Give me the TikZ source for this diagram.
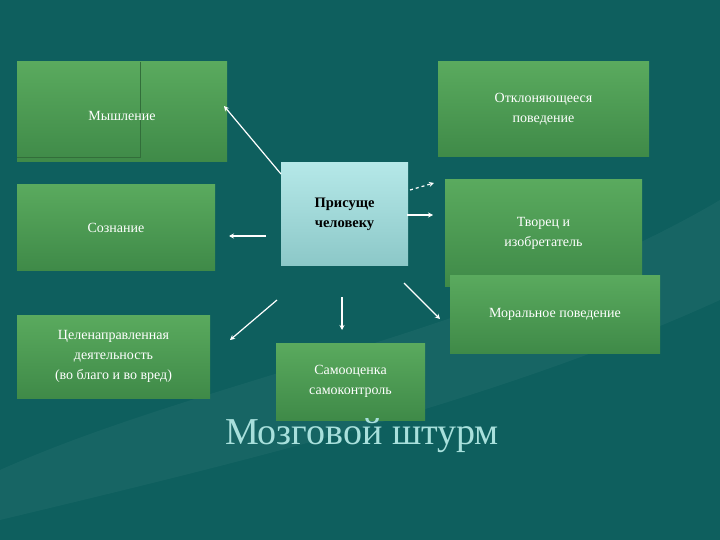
\documentclass[tikz,border=0pt]{standalone}
\usepackage{fontspec}
\setmainfont{Liberation Serif}
\usetikzlibrary{arrows.meta}
\definecolor{bg}{HTML}{0E5F5E}
\definecolor{gtop}{HTML}{5AAA5E}
\definecolor{gbot}{HTML}{3F8A48}
\definecolor{ctop}{HTML}{B5E8E8}
\definecolor{cbot}{HTML}{8CC8C8}
\definecolor{ttl}{HTML}{A8E0DC}
\tikzset{
  gbox/.style={top color=gtop,bottom color=gbot,draw=none,text=white,align=center,font=\fontsize{14}{20}\selectfont},
  cbox/.style={top color=ctop,bottom color=cbot,draw=none,text=black,align=center,font=\fontsize{14.5}{20}\selectfont\bfseries},
  arr/.style={draw=white,line width=1.2pt,-{Stealth[length=5pt,width=5pt]}}
}
\begin{document}
\begin{tikzpicture}[x=1pt,y=-1pt]
\fill[bg] (0,0) rectangle (720,540);
\path[use as bounding box] (0,0) rectangle (720,540);
\fill[white,opacity=0.04] (0,470) .. controls (200,380) and (500,330) .. (720,200) -- (720,300) .. controls (500,400) and (250,460) .. (0,520) -- cycle;
\node[gbox,minimum width=210pt,minimum height=100pt] (mysl) at (122,112) {};
\draw[gbot!80!black,line width=0.6pt] (140,62) -- (140,157) -- (17,157);
\node[text=white,font=\fontsize{14}{20}\selectfont] (myslt) at (122,116) {Мышление};
\node[gbox,minimum width=198pt,minimum height=85pt] (sozn) at (116,227.5) {Сознание};
\node[gbox,minimum width=193pt,minimum height=83pt] (cel) at (113.5,356.5) {Целенаправленная\\деятельность\\(во благо и во вред)};
\node[cbox,minimum width=127pt,minimum height=102pt] (c) at (344.5,214) {Присуще\\человеку};
\node[gbox,minimum width=211pt,minimum height=95pt] (otk) at (543.5,109.5) {Отклоняющееся\\поведение};
\node[gbox,minimum width=197pt,minimum height=106pt] (tvor) at (543.5,233) {Творец и\\изобретатель};
\node[gbox,minimum width=210pt,minimum height=78pt] (mor) at (555,314) {Моральное поведение};
\node[gbox,minimum width=149pt,minimum height=77pt] (sam) at (350.5,381.5) {Самооценка\\самоконтроль};
\node[text=ttl,font=\fontsize{38}{44}\selectfont] (title) at (362,436) {Мозговой штурм};
\coordinate (a1) at (281,174); \coordinate (b1) at (224,106);
\draw[arr] (a1) -- (b1);
\coordinate (a2) at (266,236); \coordinate (b2) at (229,236);
\draw[arr] (a2) -- (b2);
\coordinate (a3) at (407,215); \coordinate (b3) at (433,215);
\draw[arr] (a3) -- (b3);
\coordinate (a4) at (410,190); \coordinate (b4) at (434,183);
\draw[arr,dashed] (a4) -- (b4);
\coordinate (a5) at (404,283); \coordinate (b5) at (440,319);
\draw[arr] (a5) -- (b5);
\coordinate (a6) at (342,297); \coordinate (b6) at (342,330);
\draw[arr] (a6) -- (b6);
\coordinate (a7) at (277,300); \coordinate (b7) at (230,340);
\draw[arr] (a7) -- (b7);
\end{tikzpicture}
\end{document}
